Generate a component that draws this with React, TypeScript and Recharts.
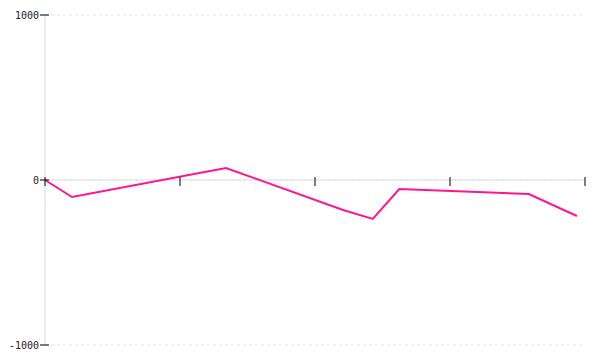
import React from 'react';
import { LineChart, Line, XAxis, YAxis, CartesianGrid, ReferenceLine, ReferenceDot } from 'recharts';

const xValues = [0, 5, 33.5, 55.2, 60.7, 65.6, 89.6, 98.5];
const yValues = [0, -103, 73, -182, -236, -55, -85, -218];
const xTicks = [0, 25, 50, 75, 100];
const yTicks = [-1000, 0, 1000];

const data = xValues.map((x, i) => ({ x, y: yValues[i] }));

const XTickMark = (props: any) => {
  const { cx, cy } = props;
  return <line x1={cx} x2={cx} y1={cy - 3} y2={cy + 6} stroke="#000" strokeWidth={1} />;
};

const YTickMark = (props: any) => {
  const { cx, cy } = props;
  return <line x1={cx - 5} x2={cx + 4} y1={cy} y2={cy} stroke="#000" strokeWidth={1} />;
};

export default function App() {
  return (
    <div style={{ position: 'absolute', left: 0, top: 0, width: 600, height: 360, background: '#fff' }}>
      <LineChart width={600} height={360} data={data} margin={{ top: 15, right: 15, bottom: 15, left: 0 }}>
        <CartesianGrid vertical={false} strokeDasharray="3 3" stroke="#e6e6e6" />
        <XAxis dataKey="x" type="number" domain={[0, 100]} ticks={xTicks} hide />
        <YAxis
          type="number"
          domain={[-1000, 1000]}
          ticks={yTicks}
          width={45}
          axisLine={{ stroke: '#dddddd' }}
          tickLine={false}
          tickSize={4}
          tickMargin={2}
          tick={{ fill: '#222', fontSize: 10, fontFamily: 'DejaVu Sans Mono' }}
        />
        <ReferenceLine y={0} stroke="#dddddd" strokeWidth={1} />
        {xTicks.map((t) => (
          <ReferenceDot key={'x' + t} x={t} y={0} r={0} shape={XTickMark} />
        ))}
        {yTicks.map((t) => (
          <ReferenceDot key={'y' + t} x={0} y={t} r={0} shape={YTickMark} />
        ))}
        <Line
          type="linear"
          dataKey="y"
          stroke="#ff1493"
          strokeWidth={2}
          dot={false}
          isAnimationActive={false}
        />
      </LineChart>
    </div>
  );
}
